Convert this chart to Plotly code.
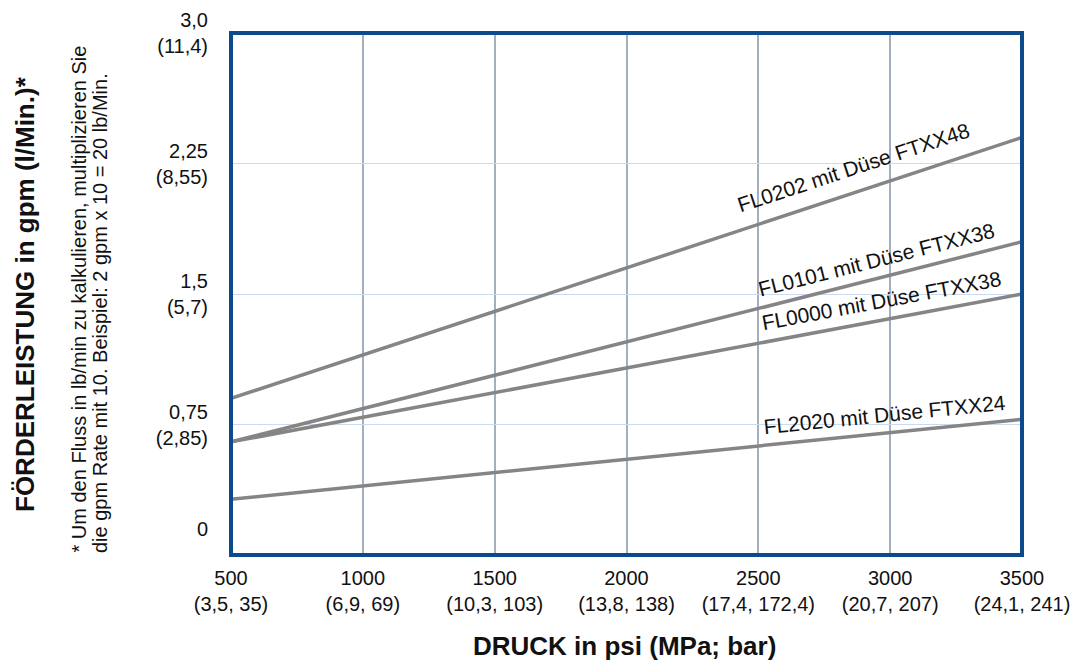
import numpy as np
import plotly.graph_objects as go

# ---- data ----
pressure_psi = [500, 3500]
fl0202_ftxx48 = [0.90, 2.40]
fl0101_ftxx38 = [0.65, 1.80]
fl0000_ftxx38 = [0.65, 1.50]
fl2020_ftxx24 = [0.32, 0.78]

series_names = ["FL0202 mit Düse FTXX48", "FL0101 mit Düse FTXX38",
                "FL0000 mit Düse FTXX38", "FL2020 mit Düse FTXX24"]
series_values = [fl0202_ftxx48, fl0101_ftxx38, fl0000_ftxx38, fl2020_ftxx24]

x_tick_vals = [500, 1000, 1500, 2000, 2500, 3000, 3500]
x_tick_text = ["500<br>(3,5, 35)", "1000<br>(6,9, 69)", "1500<br>(10,3, 103)",
               "2000<br>(13,8, 138)", "2500<br>(17,4, 172,4)", "3000<br>(20,7, 207)",
               "3500<br>(24,1, 241)"]
y_tick_vals = [0, 0.75, 1.5, 2.25, 3.0]
y_tick_text = ["0<br>&nbsp;<br>&nbsp;", "0,75<br>(2,85)", "1,5<br>(5,7)", "2,25<br>(8,55)", "3,0<br>(11,4)"]

# ---- layout / style ----
PAGE_W, PAGE_H = 1079, 666
OFF = 8  # default body margin of the html page
PLOT_L, PLOT_R, PLOT_T, PLOT_B = 231, 1022, 33, 555  # plot area in page pixels
W, H = PAGE_W - OFF, PAGE_H - OFF
M_L, M_T = PLOT_L - OFF, PLOT_T - OFF
M_R, M_B = PAGE_W - PLOT_R, PAGE_H - PLOT_B
PW, PH = PLOT_R - PLOT_L, PLOT_B - PLOT_T
X_RANGE = [500, 3500]
Y_RANGE = [0, 3.0]
px_per_x = PW / (X_RANGE[1] - X_RANGE[0])
px_per_y = PH / (Y_RANGE[1] - Y_RANGE[0])


def paper_x(px):
    return (px - PLOT_L) / PW


def paper_y(py):
    return (PLOT_B - py) / PH


FONT = "Liberation Sans, Arial, Helvetica, sans-serif"
TXT = "#111111"
LINE_COLOR = "#858585"
BORDER_COLOR = "#0b4a8b"

# label placement (x in data units along each line, vertical pixel offset)
label_x = [2860, 2950, 2968, 2978]
label_shift = [26, 19, 20, 19]

fig = go.Figure()
for name, vals in zip(series_names, series_values):
    fig.add_trace(go.Scatter(x=pressure_psi, y=vals, mode="lines", name=name,
                             line=dict(color=LINE_COLOR, width=3.5),
                             showlegend=False, hoverinfo="x+y+name"))

annotations = []
for name, vals, lx, sh in zip(series_names, series_values, label_x, label_shift):
    ly = float(np.interp(lx, pressure_psi, vals))
    slope = (vals[1] - vals[0]) / (pressure_psi[1] - pressure_psi[0])
    ang = np.degrees(np.arctan(slope * px_per_y / px_per_x))
    annotations.append(dict(x=lx, y=ly, xref="x", yref="y", text=name, showarrow=False,
                            textangle=-ang, yshift=sh, xanchor="center", yanchor="middle",
                            font=dict(family=FONT, size=21, color=TXT)))

annotations.append(dict(x=paper_x(25), y=0.5, xref="paper", yref="paper",
                        text="<b>FÖRDERLEISTUNG in gpm (l/Min.)*</b>", showarrow=False,
                        textangle=-90, xanchor="center", yanchor="middle",
                        font=dict(family=FONT, size=26, color=TXT)))
annotations.append(dict(x=paper_x(78), y=paper_y(555), xref="paper", yref="paper",
                        text="* Um den Fluss in lb/min zu kalkulieren, multiplizieren Sie",
                        showarrow=False, textangle=-90,
                        xanchor="center", yanchor="bottom",
                        font=dict(family=FONT, size=20, color=TXT)))
annotations.append(dict(x=paper_x(100), y=paper_y(555), xref="paper", yref="paper",
                        text="die gpm Rate mit 10. Beispiel: 2 gpm x 10 = 20 lb/Min.",
                        showarrow=False, textangle=-90,
                        xanchor="center", yanchor="bottom",
                        font=dict(family=FONT, size=20, color=TXT)))
annotations.append(dict(x=paper_x(624), y=paper_y(646), xref="paper", yref="paper",
                        text="<b>DRUCK in psi (MPa; bar)</b>", showarrow=False,
                        xanchor="center", yanchor="middle",
                        font=dict(family=FONT, size=26, color=TXT)))

fig.update_layout(
    width=W, height=H,
    margin=dict(l=M_L, r=M_R, t=M_T, b=M_B, pad=0, autoexpand=False),
    paper_bgcolor="white", plot_bgcolor="white",
    annotations=annotations,
    shapes=[dict(type="rect", xref="paper", yref="paper", x0=0, y0=0, x1=1, y1=1,
                 line=dict(color=BORDER_COLOR, width=4), layer="above")],
    xaxis=dict(range=X_RANGE, tickvals=x_tick_vals, ticktext=x_tick_text,
               showgrid=True, gridcolor="#a3aebf", gridwidth=2, zeroline=False,
               showline=False, ticks="", ticklabelstandoff=9, automargin=False,
               tickfont=dict(family=FONT, size=20, color=TXT)),
    yaxis=dict(range=Y_RANGE, tickvals=y_tick_vals, ticktext=y_tick_text,
               showgrid=True, gridcolor="#c9dbf2", gridwidth=1.2, zeroline=False,
               showline=False, ticks="", ticklabelstandoff=22, automargin=False,
               tickfont=dict(family=FONT, size=20, color=TXT)),
)

fig.write_html("out.html")
